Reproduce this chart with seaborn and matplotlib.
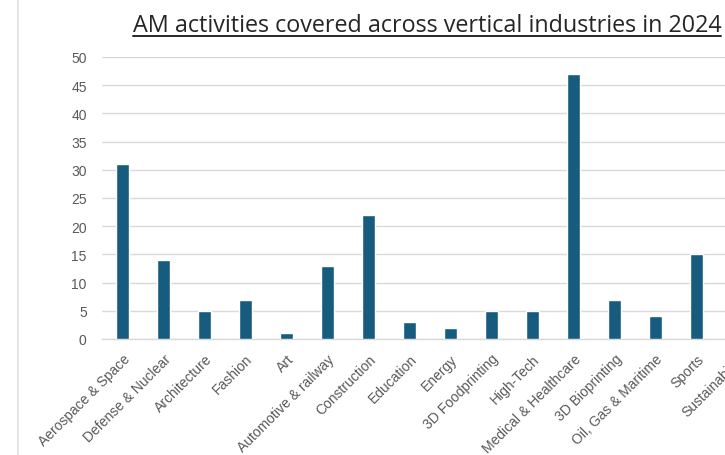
import matplotlib
matplotlib.use("Agg")
import matplotlib.pyplot as plt
from matplotlib.lines import Line2D
import seaborn as sns
import pandas as pd

industries = [
    "Aerospace & Space", "Defense & Nuclear", "Architecture", "Fashion", "Art",
    "Automotive & railway", "Construction", "Education", "Energy",
    "3D Foodprinting", "High-Tech", "Medical & Healthcare", "3D Bioprinting",
    "Oil, Gas & Maritime", "Sports", "Sustainability",
]
activities = [31, 14, 5, 7, 1, 13, 22, 3, 2, 5, 5, 47, 7, 4, 15, 10]
y_ticks = [0, 5, 10, 15, 20, 25, 30, 35, 40, 45, 50]

df = pd.DataFrame({"industry": industries, "activities": activities})

sns.set_theme(style="white")
plt.rcParams["font.family"] = ["Liberation Sans", "DejaVu Sans"]

W, H = 725, 456
fig = plt.figure(figsize=(W / 100, H / 100), dpi=100)
# plot area runs past the right edge of the canvas
ax = fig.add_axes([102 / W, (H - 340) / H, 656 / W, 282 / H])

sns.barplot(data=df, x="industry", y="activities", order=industries,
            color="#175C7E", width=0.32, saturation=1, ax=ax, zorder=3)

ax.set_xlim(-0.5, len(industries) - 0.5)
ax.set_ylim(0, 50)
ax.set_yticks(y_ticks)
ax.yaxis.grid(True, color="#D9D9D9", linewidth=1.0, zorder=0)
for s in ["top", "right", "left"]:
    ax.spines[s].set_visible(False)
ax.spines["bottom"].set_color("#D9D9D9")
ax.spines["bottom"].set_linewidth(1.0)
ax.set_xlabel("")
ax.set_ylabel("")
ax.tick_params(axis="y", length=0, pad=11, labelsize=10, labelcolor="#595959")
ax.tick_params(axis="x", length=0, pad=9, labelsize=10, labelcolor="#595959")
plt.setp(ax.get_xticklabels(), rotation=45, ha="right", rotation_mode="anchor")

# frame edge on the left of the chart area
fig.add_artist(Line2D([18 / W, 18 / W], [0, 1], color="#E0E0E0", linewidth=1.2))

title = fig.text(427 / W, 1 - 26 / H,
                 "AM activities covered across vertical industries in 2024",
                 ha="center", va="center", fontsize=16.8, color="#262626",
                 family=["Open Sans", "DejaVu Sans"])
fig.canvas.draw()
bb = title.get_window_extent()
uy = (bb.y0 + 1) / H
fig.add_artist(Line2D([bb.x0 / W, bb.x1 / W], [uy, uy], color="#262626", linewidth=1.4))

fig.savefig("out.png", dpi=100)
